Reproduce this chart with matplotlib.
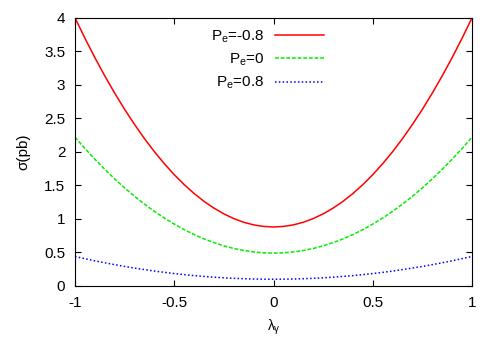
import matplotlib
matplotlib.use("Agg")
import matplotlib.pyplot as plt

plt.rcParams.update({
    "font.family": ["Liberation Sans", "DejaVu Sans"],
    "font.size": 11,
    "mathtext.fontset": "custom",
    "mathtext.rm": "Liberation Sans",
    "mathtext.it": "Liberation Sans",
})

# lambda_gamma samples and read-off cross sections (pb)
lam = [-1.0, -0.95, -0.9, -0.85, -0.8, -0.75, -0.7, -0.65, -0.6, -0.55, -0.5,
       -0.45, -0.4, -0.35, -0.3, -0.25, -0.2, -0.15, -0.1, -0.05, 0.0,
       0.05, 0.1, 0.15, 0.2, 0.25, 0.3, 0.35, 0.4, 0.45, 0.5,
       0.55, 0.6, 0.65, 0.7, 0.75, 0.8, 0.85, 0.9, 0.95, 1.0]
sig_m08 = [4.000, 3.696, 3.407, 3.134, 2.877, 2.635, 2.409, 2.198, 2.003, 1.824, 1.660,
           1.512, 1.379, 1.262, 1.161, 1.075, 1.005, 0.950, 0.911, 0.888, 0.880,
           0.888, 0.911, 0.950, 1.005, 1.075, 1.161, 1.262, 1.379, 1.512, 1.660,
           1.824, 2.003, 2.198, 2.409, 2.635, 2.877, 3.134, 3.407, 3.696, 4.000]
sig_0 = [2.220, 2.051, 1.891, 1.740, 1.597, 1.463, 1.338, 1.221, 1.113, 1.013, 0.923,
         0.840, 0.767, 0.702, 0.646, 0.598, 0.559, 0.529, 0.507, 0.494, 0.490,
         0.494, 0.507, 0.529, 0.559, 0.598, 0.646, 0.702, 0.767, 0.840, 0.923,
         1.013, 1.113, 1.221, 1.338, 1.463, 1.597, 1.740, 1.891, 2.051, 2.220]
sig_p08 = [0.440, 0.407, 0.375, 0.346, 0.318, 0.291, 0.267, 0.244, 0.222, 0.203, 0.185,
           0.169, 0.154, 0.142, 0.131, 0.121, 0.114, 0.108, 0.103, 0.101, 0.100,
           0.101, 0.103, 0.108, 0.114, 0.121, 0.131, 0.142, 0.154, 0.169, 0.185,
           0.203, 0.222, 0.244, 0.267, 0.291, 0.318, 0.346, 0.375, 0.407, 0.440]
labels = [r"P$_\mathrm{e}$=-0.8", r"P$_\mathrm{e}$=0", r"P$_\mathrm{e}$=0.8"]

fig = plt.figure(figsize=(5, 3.5), dpi=100)
ax = fig.add_axes([0.15, 0.183, 0.794, 0.766])

ax.plot(lam, sig_m08, "-", color="#ff0000", lw=1.1, label=labels[0])
ax.plot(lam, sig_0, "--", color="#00ee00", lw=1.1, dashes=(2.5, 1.2), label=labels[1])
ax.plot(lam, sig_p08, ":", color="#0000ff", lw=1.1, dashes=(1, 1.5), label=labels[2])

ax.set_xlim(-1, 1)
ax.set_ylim(0, 4)
ax.set_xticks([-1, -0.5, 0, 0.5, 1])
ax.set_xticklabels(["-1", "-0.5", "0", "0.5", "1"])
ax.set_yticks([0, 0.5, 1, 1.5, 2, 2.5, 3, 3.5, 4])
ax.set_yticklabels(["0", "0.5", "1", "1.5", "2", "2.5", "3", "3.5", "4"])
ax.tick_params(direction="in", top=True, right=True, length=4, pad=7)
ax.set_xlabel(r"$\lambda_\gamma$", fontsize=10, labelpad=6)
ax.set_ylabel("σ(pb)", labelpad=10)

ax.legend(loc="upper center", bbox_to_anchor=(0.485, 1.0), frameon=False,
          markerfirst=False, handlelength=3.2, labelspacing=0.45,
          handletextpad=0.7, borderaxespad=0.3)

fig.savefig("out.png", dpi=100)
